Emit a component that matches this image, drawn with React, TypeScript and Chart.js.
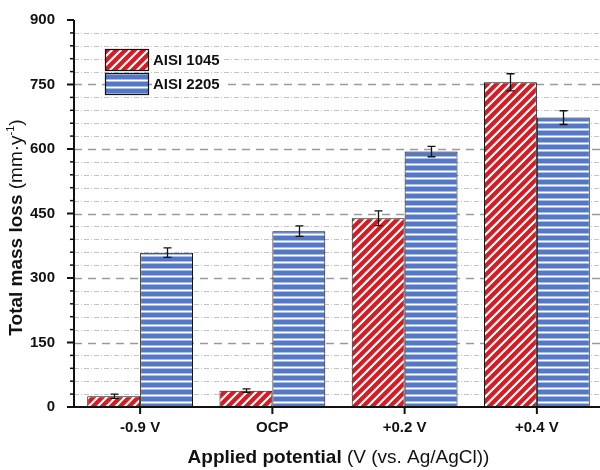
import { useEffect, useRef } from "react";
import { Chart, registerables } from "chart.js";

Chart.register(...registerables);

// Corrosion data: total mass loss per applied potential, with error bars
const categories = ["-0.9 V", "OCP", "+0.2 V", "+0.4 V"];
const seriesNames = ["AISI 1045", "AISI 2205"];
const lossAisi1045 = [25, 38, 439, 755];
const errAisi1045 = [5, 4, 17, 20];
const lossAisi2205 = [359, 409, 594, 673];
const errAisi2205 = [11, 12, 12, 16];

const yMin = 0;
const yMax = 900;
const yMajorStep = 150;
const yMinorStep = 30;

const FONT = '"Liberation Sans", Arial, Helvetica, sans-serif';
const INK = "#111111";
const RED = "#da1a22";
const BLUE = "#5477c6";

function makeHatch(ctx: CanvasRenderingContext2D): CanvasPattern {
  const s = 9;
  const c = document.createElement("canvas");
  c.width = s;
  c.height = s;
  const g = c.getContext("2d")!;
  g.fillStyle = RED;
  g.fillRect(0, 0, s, s);
  g.strokeStyle = "#ffffff";
  g.lineWidth = 2.2;
  g.beginPath();
  g.moveTo(-2, s + 2);
  g.lineTo(s + 2, -2);
  g.moveTo(-2, 2);
  g.lineTo(2, -2);
  g.moveTo(s - 2, s + 2);
  g.lineTo(s + 2, s - 2);
  g.stroke();
  return ctx.createPattern(c, "repeat")!;
}

function makeStripes(ctx: CanvasRenderingContext2D): CanvasPattern {
  const w = 4;
  const h = 7;
  const c = document.createElement("canvas");
  c.width = w;
  c.height = h;
  const g = c.getContext("2d")!;
  g.fillStyle = BLUE;
  g.fillRect(0, 0, w, h);
  g.fillStyle = "#a9bce8";
  g.fillRect(0, 2, w, 1);
  g.fillRect(0, 4, w, 1);
  g.fillStyle = "#ffffff";
  g.fillRect(0, 3, w, 1);
  return ctx.createPattern(c, "repeat")!;
}

type Run = { text: string; font: string; rise?: number };

function runsWidth(ctx: CanvasRenderingContext2D, runs: Run[]) {
  let w = 0;
  for (const r of runs) {
    ctx.font = r.font;
    w += ctx.measureText(r.text).width;
  }
  return w;
}

function drawRuns(ctx: CanvasRenderingContext2D, runs: Run[], cx: number, cy: number) {
  let x = cx - runsWidth(ctx, runs) / 2;
  ctx.textBaseline = "middle";
  ctx.textAlign = "left";
  ctx.fillStyle = INK;
  for (const r of runs) {
    ctx.font = r.font;
    ctx.fillText(r.text, x, cy - (r.rise || 0));
    x += ctx.measureText(r.text).width;
  }
}

const errorSets = [errAisi1045, errAisi2205];

const decor = {
  id: "decor",
  beforeDatasetsDraw(chart: any) {
    const { ctx, chartArea: a } = chart;
    const y = chart.scales.y;
    ctx.save();
    for (const t of y.ticks) {
      const v = t.value;
      if (v <= yMin || v >= yMax) continue;
      const py = Math.round(y.getPixelForValue(v)) + 0.5;
      ctx.beginPath();
      if (v % yMajorStep === 0) {
        ctx.strokeStyle = "#9a9a9a";
        ctx.lineWidth = 1.6;
        ctx.setLineDash([8, 6]);
      } else {
        ctx.strokeStyle = "#c4c4c4";
        ctx.lineWidth = 1;
        ctx.setLineDash([5, 2, 1, 2]);
      }
      ctx.moveTo(a.left, py);
      ctx.lineTo(a.right, py);
      ctx.stroke();
    }
    ctx.restore();
  },
  afterDatasetsDraw(chart: any) {
    const { ctx, chartArea: a } = chart;
    const y = chart.scales.y;
    const x = chart.scales.x;
    ctx.save();
    ctx.setLineDash([]);
    ctx.strokeStyle = INK;

    // error bars
    chart.data.datasets.forEach((ds: any, i: number) => {
      const meta = chart.getDatasetMeta(i);
      meta.data.forEach((el: any, j: number) => {
        const v = ds.data[j];
        const e = errorSets[i][j];
        const top = y.getPixelForValue(v + e);
        const bot = y.getPixelForValue(v - e);
        const cx = Math.round(el.x) + 0.5;
        ctx.lineWidth = 1.3;
        ctx.beginPath();
        ctx.moveTo(cx, top);
        ctx.lineTo(cx, bot);
        ctx.moveTo(cx - 4, top);
        ctx.lineTo(cx + 4, top);
        ctx.moveTo(cx - 4, bot);
        ctx.lineTo(cx + 4, bot);
        ctx.stroke();
      });
    });

    // axis lines
    ctx.lineWidth = 2;
    ctx.beginPath();
    ctx.moveTo(a.left, a.top);
    ctx.lineTo(a.left, a.bottom + 1);
    ctx.moveTo(a.left - 1, a.bottom);
    ctx.lineTo(a.right, a.bottom);
    ctx.stroke();

    // y ticks: long at labelled values, short in between
    for (const t of y.ticks) {
      const py = y.getPixelForValue(t.value);
      const major = t.value % yMajorStep === 0;
      ctx.lineWidth = major ? 2 : 1.5;
      ctx.beginPath();
      ctx.moveTo(a.left - (major ? 7 : 4), py);
      ctx.lineTo(a.left, py);
      ctx.stroke();
    }

    // x ticks at category centres
    ctx.lineWidth = 2;
    categories.forEach((_, i) => {
      const px = x.getPixelForValue(i);
      ctx.beginPath();
      ctx.moveTo(px, a.bottom);
      ctx.lineTo(px, a.bottom + 7);
      ctx.stroke();
    });
    ctx.restore();
  },
  afterDraw(chart: any) {
    const { ctx, chartArea: a } = chart;
    ctx.save();

    // legend
    const fills = chart.data.datasets.map((d: any) => d.backgroundColor);
    const bx = a.left + 31;
    const rows = [a.top + 29, a.top + 53];
    ctx.font = `bold 15px ${FONT}`;
    seriesNames.forEach((name, i) => {
      const by = rows[i];
      ctx.fillStyle = fills[i];
      ctx.fillRect(bx, by, 44, 22);
      ctx.strokeStyle = INK;
      ctx.lineWidth = 1.2;
      ctx.setLineDash([]);
      ctx.strokeRect(bx + 0.5, by + 0.5, 43, 21);
      const tw = ctx.measureText(name).width;
      ctx.fillStyle = "#ffffff";
      ctx.fillRect(bx + 47, by + 4, tw + 4, 15);
      ctx.fillStyle = INK;
      ctx.textBaseline = "middle";
      ctx.textAlign = "left";
      ctx.fillText(name, bx + 48, by + 11.5);
    });

    // axis titles
    drawRuns(
      ctx,
      [
        { text: "Applied potential ", font: `bold 19px ${FONT}` },
        { text: "(V (vs. Ag/AgCl))", font: `19px ${FONT}` },
      ],
      (a.left + a.right) / 2,
      458
    );
    ctx.translate(17, (a.top + a.bottom) / 2 + 14);
    ctx.rotate(-Math.PI / 2);
    drawRuns(
      ctx,
      [
        { text: "Total mass loss ", font: `bold 19px ${FONT}` },
        { text: "(mm\u00b7y", font: `19px ${FONT}` },
        { text: "-1", font: `11px ${FONT}`, rise: 6 },
        { text: ")", font: `19px ${FONT}` },
      ],
      0,
      0
    );
    ctx.restore();
  },
};

export default function App() {
  const canvasRef = useRef<HTMLCanvasElement | null>(null);

  useEffect(() => {
    const canvas = canvasRef.current!;
    const ctx = canvas.getContext("2d")!;
    const tickFont = { family: FONT, size: 15, weight: "bold" as const };

    const chart = new Chart(canvas, {
      type: "bar",
      data: {
        labels: categories,
        datasets: [
          {
            label: seriesNames[0],
            data: lossAisi1045,
            backgroundColor: makeHatch(ctx),
            borderColor: INK,
            borderWidth: 1,
            barPercentage: 1,
            categoryPercentage: 0.8,
          },
          {
            label: seriesNames[1],
            data: lossAisi2205,
            backgroundColor: makeStripes(ctx),
            borderColor: INK,
            borderWidth: 1,
            barPercentage: 1,
            categoryPercentage: 0.8,
          },
        ],
      },
      options: {
        responsive: false,
        animation: false,
        layout: { padding: { top: 18, right: 3, left: 0, bottom: 0 } },
        plugins: { legend: { display: false }, tooltip: { enabled: false } },
        scales: {
          x: {
            type: "category",
            offset: true,
            grid: { display: false },
            border: { display: false },
            ticks: { color: INK, font: tickFont, padding: 4, maxRotation: 0 },
            afterFit: (s: any) => {
              s.height = 63;
            },
          },
          y: {
            min: yMin,
            max: yMax,
            grid: { display: false },
            border: { display: false },
            ticks: {
              stepSize: yMinorStep,
              maxTicksLimit: 100,
              autoSkip: false,
              padding: 11,
              color: INK,
              font: tickFont,
              callback: (v: any) => (Number(v) % yMajorStep === 0 ? String(v) : ""),
            },
            afterFit: (s: any) => {
              s.width = 74;
            },
          },
        },
      },
      plugins: [decor],
    });

    return () => chart.destroy();
  }, []);

  return (
    <div
      style={{
        position: "fixed",
        left: 0,
        top: 0,
        width: 600,
        height: 470,
        overflow: "hidden",
        background: "#ffffff",
      }}
    >
      <canvas ref={canvasRef} width={606} height={470} style={{ display: "block" }} />
    </div>
  );
}
